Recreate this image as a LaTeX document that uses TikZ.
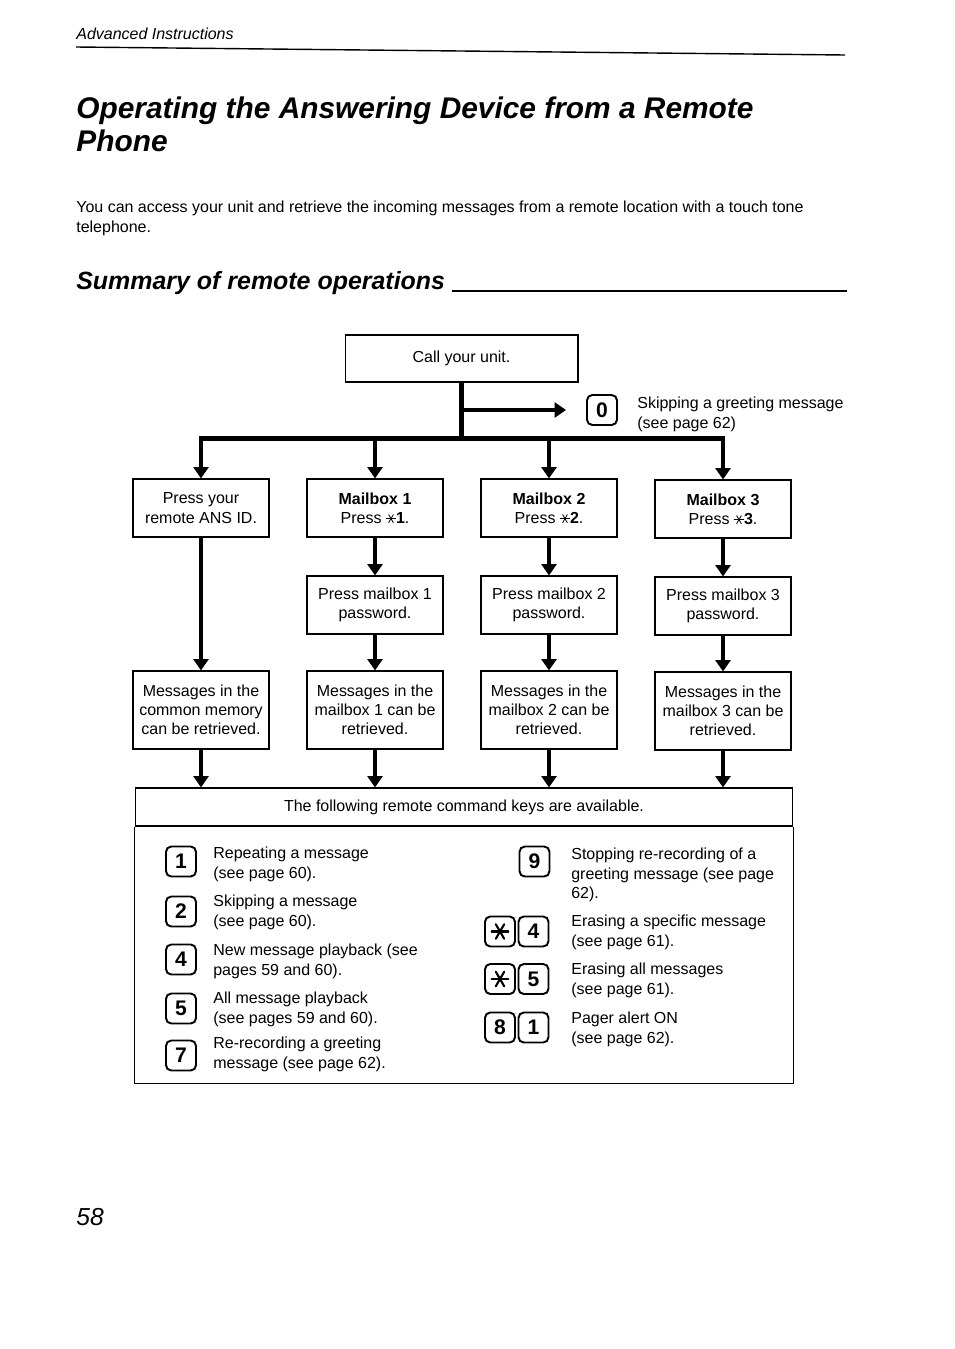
\documentclass[tikz,border=0pt]{standalone}
\usepackage{fontspec}
\setmainfont{Liberation Sans}
\usetikzlibrary{positioning, calc, arrows.meta}
\newcommand{\bodyfont}{\fontsize{9.1}{10.9}\selectfont}
\newcommand{\keyfont}{\fontsize{12}{12}\selectfont\bfseries}
% six-armed star as printed on the keypad
\newcommand{\padstar}[2]{\tikz[baseline=-0.55ex]{\foreach \a in {0,60,120}{\draw[line width=#2, line cap=round] (\a:#1) -- (\a+180:#1);}}}
\tikzset{
    flowbox/.style={
        draw, line width=0.6pt, fill=white, align=center, inner sep=2pt,
        minimum width=2.72cm, minimum height=1.16cm, font=\bodyfont
    },
    tallbox/.style={
        flowbox, minimum height=1.56cm
    },
    flowarrow/.style={
        line width=2.8pt, -{Triangle[length=6.5pt, width=8.5pt]}
    },
    keycap/.style={
        draw, rounded corners=3pt, line width=1.1pt, minimum size=0.6cm,
        inner sep=0pt, font=\keyfont
    },
    cmdtext/.style={
        anchor=north west, align=left, inner sep=0pt, font=\bodyfont
    }
}

\begin{document}
\begin{tikzpicture}[x=0.02cm, y=-0.02cm]
    \useasboundingbox (0,0) rectangle (954,1349);

    % --- PAGE HEAD ---
    \node[anchor=base west, inner sep=0pt, font=\fontsize{9.1}{11}\selectfont\itshape] (pagehead) at (76,39) {Advanced Instructions};
    \draw[line width=0.8pt] (76,47) -- (845,55);

    % --- TITLES ---
    \node[anchor=base west, inner sep=0pt, font=\fontsize{17}{20}\selectfont\bfseries\itshape] (title1) at (76,118) {Operating the Answering Device from a Remote};
    \node[anchor=base west, inner sep=0pt, font=\fontsize{17}{20}\selectfont\bfseries\itshape] (title2) at (76,151) {Phone};
    \node[cmdtext] (intro) at (76,201) {You can access your unit and retrieve the incoming messages from a remote location with a touch tone\\telephone.};
    \node[anchor=base west, inner sep=0pt, font=\fontsize{14.2}{17}\selectfont\bfseries\itshape] (summary) at (76,289) {Summary of remote operations};
    \draw[line width=1.7pt] ($(summary.base east)+(7,2)$) -- (847,291);

    % --- FLOW CHART ---
    \node[flowbox, minimum width=4.66cm, minimum height=0.94cm] (call) at (461.5,358.5) {Call your unit.};
    \node[keycap] (key0) at (602,410) {0};
    \node[cmdtext] (skipgreet) at (637,397) {Skipping a greeting message\\(see page 62)};

    % Zeile 1
    \node[flowbox] (ansid) at (201,508) {Press your\\remote ANS ID.};
    \node[flowbox] (mbox1) at (375,508) {\textbf{Mailbox 1}\\Press \padstar{0.55ex}{0.45pt}\textbf{1}.};
    \node[flowbox] (mbox2) at (549,508) {\textbf{Mailbox 2}\\Press \padstar{0.55ex}{0.45pt}\textbf{2}.};
    \node[flowbox] (mbox3) at (723,509) {\textbf{Mailbox 3}\\Press \padstar{0.55ex}{0.45pt}\textbf{3}.};
    % Zeile 2
    \node[flowbox] (pass1) at (375,605) {Press mailbox 1\\password.};
    \node[flowbox] (pass2) at (549,605) {Press mailbox 2\\password.};
    \node[flowbox] (pass3) at (723,606) {Press mailbox 3\\password.};
    % Zeile 3
    \node[tallbox] (memall) at (201,710) {Messages in the\\common memory\\can be retrieved.};
    \node[tallbox] (mem1) at (375,710) {Messages in the\\mailbox 1 can be\\retrieved.};
    \node[tallbox] (mem2) at (549,710) {Messages in the\\mailbox 2 can be\\retrieved.};
    \node[tallbox] (mem3) at (723,711) {Messages in the\\mailbox 3 can be\\retrieved.};

    % Verteiler unter "Call your unit."
    \foreach \b in {ansid, mbox1, mbox2, mbox3}
        \draw[flowarrow] (call.south) -- ++(0,56) -| (\b.north);
    \draw[flowarrow] (call.south |- key0) -- ([xshift=-0.4cm]key0.west);

    \draw[flowarrow] (ansid.south) -- (memall.north);
    \foreach \i in {1,2,3} {
        \draw[flowarrow] (mbox\i.south) -- (pass\i.north);
        \draw[flowarrow] (pass\i.south) -- (mem\i.north);
    }

    % --- COMMAND KEYS ---
    \node[flowbox, minimum width=13.16cm, minimum height=0.76cm] (cmdhead) at (464,807) {The following remote command keys are available.};
    \draw[line width=0.6pt] (cmdhead.south west) -- ++(0,257) -| (cmdhead.south east);
    \foreach \m in {memall, mem1, mem2, mem3}
        \draw[flowarrow] (\m.south) -- (\m.south |- cmdhead.north);

    % linke Spalte
    \node[keycap] (key1) at (181,861.5) {1};
    \node[cmdtext] (txt1) at (213,847) {Repeating a message\\(see page 60).};
    \node[keycap] (key2) at (181,911.5) {2};
    \node[cmdtext] (txt2) at (213,895) {Skipping a message\\(see page 60).};
    \node[keycap] (key4) at (181,959.5) {4};
    \node[cmdtext] (txt4) at (213,944) {New message playback (see\\pages 59 and 60).};
    \node[keycap] (key5) at (181,1008.5) {5};
    \node[cmdtext] (txt5) at (213,992) {All message playback\\(see pages 59 and 60).};
    \node[keycap] (key7) at (181,1055.5) {7};
    \node[cmdtext] (txt7) at (213,1037) {Re-recording a greeting\\message (see page 62).};

    % rechte Spalte
    \node[keycap] (key9) at (534.5,861.5) {9};
    \node[cmdtext] (txt9) at (571,848) {Stopping re-recording of a\\greeting message (see page\\62).};
    \node[keycap] (keyst4) at (500,931.5) {\padstar{0.75ex}{1.2pt}};
    \node[keycap] (keyf4) at (533.5,931.5) {4};
    \node[cmdtext] (txtst4) at (571,915) {Erasing a specific message\\(see page 61).};
    \node[keycap] (keyst5) at (500,979) {\padstar{0.75ex}{1.2pt}};
    \node[keycap] (keyf5) at (533.5,979) {5};
    \node[cmdtext] (txtst5) at (571,963) {Erasing all messages\\(see page 61).};
    \node[keycap] (key8) at (500,1027.5) {8};
    \node[keycap] (key81) at (533.5,1027.5) {1};
    \node[cmdtext] (txt81) at (571,1012) {Pager alert ON\\(see page 62).};

    % --- PAGE NUMBER ---
    \node[anchor=base west, inner sep=0pt, font=\fontsize{14}{16}\selectfont\itshape] (pageno) at (76,1225) {58};
\end{tikzpicture}
\end{document}
